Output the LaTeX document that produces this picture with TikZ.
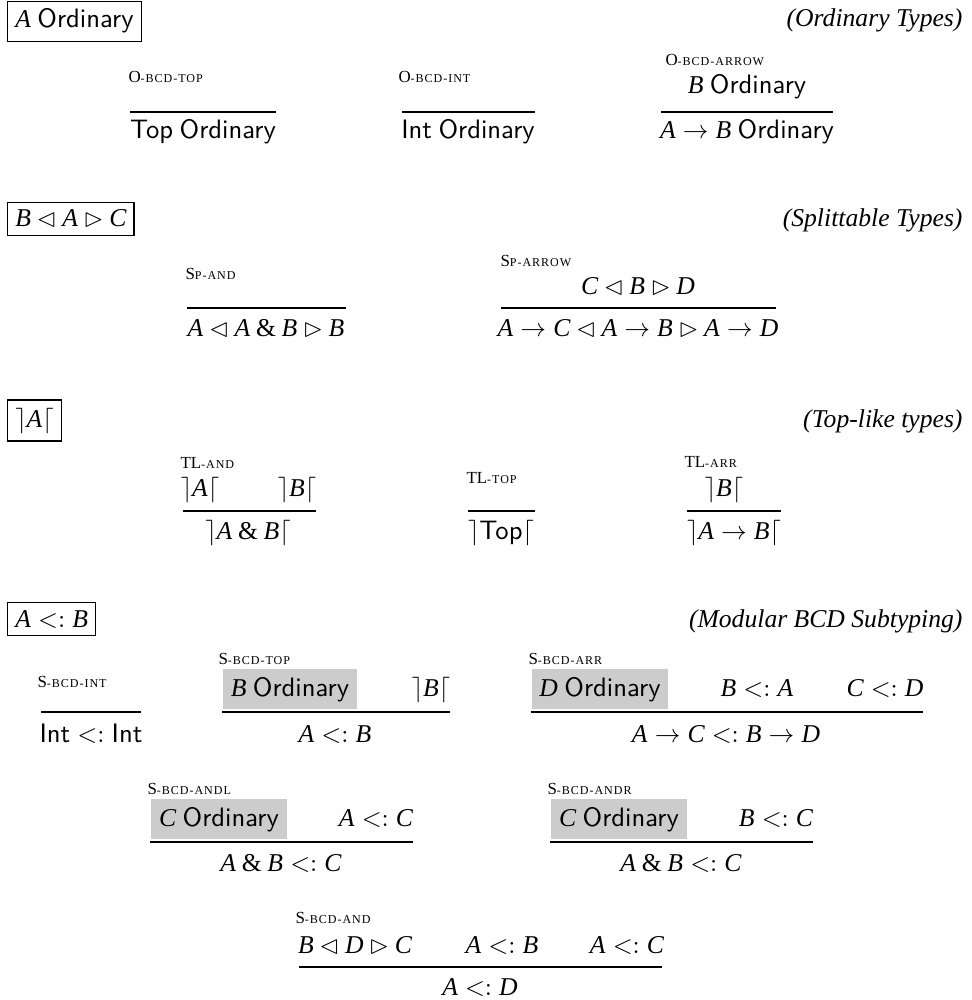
\documentclass[tikz,border=0pt]{standalone}
\usepackage{fontspec}
\setmainfont{Liberation Serif}
\usepackage{amssymb}
\newcommand{\tv}[1]{\mbox{\itshape #1}}
\newcommand{\sfw}[1]{\textsf{\fontsize{10.4}{12}\selectfont #1}}
\newcommand{\ord}{\sfw{Ordinary}}
\newcommand{\sub}{\mathrel{<:}}
\newcommand{\amp}{\mathbin{\mbox{\&}}}
\newcommand{\rn}[2]{{\fontsize{6.6}{7}\selectfont #1{\fontsize{4.7}{5}\selectfont\addfontfeature{LetterSpace=8}\MakeUppercase{#2}}}}
\begin{document}
\begin{tikzpicture}[x=0.39pt, y=-0.39pt,
    hdr/.style={draw, line width=0.5pt, inner sep=3pt, anchor=base west},
    ttl/.style={anchor=base east, inner sep=0pt, font=\itshape},
    lbl/.style={anchor=base west, inner sep=0pt},
    jdg/.style={anchor=base, inner sep=0pt},
    shd/.style={anchor=base, inner sep=3pt, fill=black!20},
    bar/.style={line width=0.45pt}]
    \useasboundingbox (0,0) rectangle (972,1000);

    % ordinary types
    \node[hdr] (hd1) at (7,28) {$\tv{A}$ \ord};
    \node[ttl] (tt1) at (963,27) {(Ordinary Types)};
    \node[lbl] (n-otop) at (128,83) {\rn{O}{-bcd-top}};
    \node[jdg] (c-otop) at (203,139) {\sfw{Top} \ord};
    \node[lbl] (n-oint) at (398,83) {\rn{O}{-bcd-int}};
    \node[jdg] (c-oint) at (468,139) {\sfw{Int} \ord};
    \node[lbl] (n-oarr) at (665,66) {\rn{O}{-bcd-arrow}};
    \node[jdg] (p-oarr) at (747,94) {$\tv{B}$ \ord};
    \node[jdg] (c-oarr) at (747,139) {$\tv{A}\rightarrow\tv{B}$ \ord};

    % splittable types
    \node[hdr] (hd2) at (7,227) {$\tv{B}\lhd\tv{A}\rhd\tv{C}$};
    \node[ttl] (tt2) at (963,227) {(Splittable Types)};
    \node[lbl] (n-spand) at (185,280) {\rn{S}{p-and}};
    \node[jdg] (c-spand) at (266,336) {$\tv{A}\lhd\tv{A}\amp\tv{B}\rhd\tv{B}$};
    \node[lbl] (n-sparr) at (500,266) {\rn{S}{p-arrow}};
    \node[jdg] (p-sparr) at (638,295) {$\tv{C}\lhd\tv{B}\rhd\tv{D}$};
    \node[jdg] (c-sparr) at (638,336) {$\tv{A}\rightarrow\tv{C}\lhd\tv{A}\rightarrow\tv{B}\rhd\tv{A}\rightarrow\tv{D}$};

    % top-like types
    \node[hdr] (hd3) at (7,427) {$\rceil\tv{A}\lceil$};
    \node[ttl] (tt3) at (963,427) {(Top-like types)};
    \node[lbl] (n-tland) at (180,468) {\rn{TL}{-and}};
    \node[jdg] (p1-tland) at (200,496) {$\rceil\tv{A}\lceil$};
    \node[jdg] (p2-tland) at (297,496) {$\rceil\tv{B}\lceil$};
    \node[jdg] (c-tland) at (248,539) {$\rceil\tv{A}\amp\tv{B}\lceil$};
    \node[lbl] (n-tltop) at (466,483) {\rn{TL}{-top}};
    \node[jdg] (c-tltop) at (501,539) {$\rceil\mbox{\sfw{Top}}\lceil$};
    \node[lbl] (n-tlarr) at (684,467) {\rn{TL}{-arr}};
    \node[jdg] (p-tlarr) at (724,496) {$\rceil\tv{B}\lceil$};
    \node[jdg] (c-tlarr) at (734,539) {$\rceil\tv{A}\rightarrow\tv{B}\lceil$};

    % subtyping
    \node[hdr] (hd4) at (7,627) {$\tv{A}\sub\tv{B}$};
    \node[ttl] (tt4) at (963,627) {(Modular BCD Subtyping)};
    \node[lbl] (n-sint) at (37,687) {\rn{S}{-bcd-int}};
    \node[jdg] (c-sint) at (91,742) {$\mbox{\sfw{Int}}\sub\mbox{\sfw{Int}}$};
    \node[lbl] (n-stop) at (218,664) {\rn{S}{-bcd-top}};
    \node[shd] (p1-stop) at (290,696) {$\tv{B}$ \ord};
    \node[jdg] (p2-stop) at (431,696) {$\rceil\tv{B}\lceil$};
    \node[jdg] (c-stop) at (335,742) {$\tv{A}\sub\tv{B}$};
    \node[lbl] (n-sarr) at (528,664) {\rn{S}{-bcd-arr}};
    \node[shd] (p1-sarr) at (600,696) {$\tv{D}$ \ord};
    \node[jdg] (p2-sarr) at (757,696) {$\tv{B}\sub\tv{A}$};
    \node[jdg] (p3-sarr) at (885,696) {$\tv{C}\sub\tv{D}$};
    \node[jdg] (c-sarr) at (726,742) {$\tv{A}\rightarrow\tv{C}\sub\tv{B}\rightarrow\tv{D}$};
    \node[lbl] (n-sandl) at (147,794) {\rn{S}{-bcd-andl}};
    \node[shd] (p1-sandl) at (219,826) {$\tv{C}$ \ord};
    \node[jdg] (p2-sandl) at (376,826) {$\tv{A}\sub\tv{C}$};
    \node[jdg] (c-sandl) at (281,871) {$\tv{A}\amp\tv{B}\sub\tv{C}$};
    \node[lbl] (n-sandr) at (547,794) {\rn{S}{-bcd-andr}};
    \node[shd] (p1-sandr) at (619,826) {$\tv{C}$ \ord};
    \node[jdg] (p2-sandr) at (776,826) {$\tv{B}\sub\tv{C}$};
    \node[jdg] (c-sandr) at (681,871) {$\tv{A}\amp\tv{B}\sub\tv{C}$};
    \node[lbl] (n-sand) at (295,923) {\rn{S}{-bcd-and}};
    \node[jdg] (p1-sand) at (355,953) {$\tv{B}\lhd\tv{D}\rhd\tv{C}$};
    \node[jdg] (p2-sand) at (502,953) {$\tv{A}\sub\tv{B}$};
    \node[jdg] (p3-sand) at (627,953) {$\tv{A}\sub\tv{C}$};
    \node[jdg] (c-sand) at (480,995) {$\tv{A}\sub\tv{D}$};

    % rule bars
    \foreach \n/\a/\b/\y in {otop/130/276/112, oint/402/535/112, oarr/661/833/112,
        spand/187/346/308, sparr/501/776/308,
        tland/183/316/511, tltop/468/535/511, tlarr/687/781/511,
        sint/41/141/712, stop/222/450/712, sarr/531/923/712,
        sandl/150/413/842, sandr/550/813/842, sand/299/662/967} {
      \coordinate (\n-l) at (\a,\y);
      \coordinate (\n-r) at (\b,\y);
      \draw[bar] (\n-l) -- (\n-r);
    }
\end{tikzpicture}
\end{document}
